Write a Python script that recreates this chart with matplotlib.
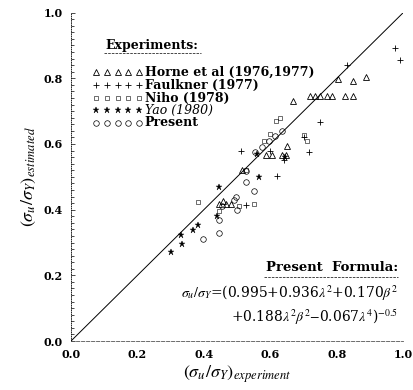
import numpy as np
import matplotlib
matplotlib.use('Agg')
import matplotlib.pyplot as plt

plt.rcParams['font.family'] = ['DejaVu Serif']
plt.rcParams['mathtext.fontset'] = 'stix'

# data
horne_x = [0.805, 0.848, 0.888, 0.669, 0.72, 0.735, 0.75, 0.77, 0.785, 0.825, 0.85,
           0.65, 0.586, 0.606, 0.636, 0.646, 0.446, 0.466, 0.481, 0.456, 0.515]
horne_y = [0.797, 0.793, 0.803, 0.732, 0.747, 0.745, 0.747, 0.745, 0.747, 0.747, 0.747,
           0.593, 0.565, 0.565, 0.565, 0.565, 0.418, 0.418, 0.418, 0.425, 0.52]
faulkner_x = [0.99, 0.975, 0.83, 0.75, 0.716, 0.62, 0.511, 0.526, 0.70, 0.64, 0.60]
faulkner_y = [0.856, 0.892, 0.84, 0.668, 0.575, 0.504, 0.58, 0.413, 0.62, 0.55, 0.58]
niho_x = [0.551, 0.381, 0.70, 0.71, 0.616, 0.63, 0.60, 0.58, 0.526, 0.506, 0.446]
niho_y = [0.418, 0.423, 0.626, 0.61, 0.67, 0.68, 0.63, 0.61, 0.52, 0.41, 0.395]
yao_x = [0.301, 0.331, 0.334, 0.366, 0.381, 0.446, 0.44, 0.566, 0.56, 0.645]
yao_y = [0.271, 0.322, 0.296, 0.337, 0.352, 0.469, 0.382, 0.499, 0.57, 0.56]
present_x = [0.396, 0.496, 0.446, 0.446, 0.551, 0.526, 0.526, 0.555, 0.575, 0.595,
             0.615, 0.635, 0.50, 0.49, 0.455]
present_y = [0.311, 0.44, 0.37, 0.33, 0.458, 0.484, 0.519, 0.575, 0.59, 0.61,
             0.625, 0.64, 0.40, 0.43, 0.41]
ticks = [0.0, 0.2, 0.4, 0.6, 0.8, 1.0]

fig = plt.figure(figsize=(4.14, 3.9), dpi=100)
ax = fig.add_axes([0.1715, 0.1256, 0.8025, 0.842])

ax.plot([0, 1], [0, 1], color='black', lw=0.7)

styles = [
    ('Horne et al (1976,1977)', horne_x, horne_y, dict(marker='^', ms=4.5, mfc='none', mew=0.6)),
    ('Faulkner (1977)', faulkner_x, faulkner_y, dict(marker='+', ms=4, mew=0.6)),
    ('Niho (1978)', niho_x, niho_y, dict(marker='s', ms=3.5, mfc='none', mew=0.4)),
    ('Yao (1980)', yao_x, yao_y, dict(marker='*', ms=4.5, mew=0.3)),
    ('Present', present_x, present_y, dict(marker='o', ms=4, mfc='none', mew=0.5)),
]
for name, xs, ys, st in styles:
    ax.plot(xs, ys, ls='none', color='black', mec='black', **st)

# hand-made legend
ax.text(0.243, 0.901, 'Experiments:', transform=ax.transAxes, ha='center', va='center',
        fontsize=9, fontweight='bold')
ax.plot([0.10, 0.39], [0.878, 0.878], transform=ax.transAxes, color='black', lw=0.5, ls='--')
rows = [0.819, 0.779, 0.740, 0.703, 0.664]
mx = np.linspace(0.075, 0.205, 5)
for (name, xs, ys, st), ry in zip(styles, rows):
    ax.plot(mx, [ry] * 5, transform=ax.transAxes, ls='none', color='black', mec='black', **st)
    is_yao = name.startswith('Yao')
    ax.text(0.222, ry, name, transform=ax.transAxes, va='center', fontsize=9,
            fontweight='normal' if is_yao else 'bold', style='italic' if is_yao else 'normal')

# formula box
ax.text(0.985, 0.225, 'Present  Formula:', transform=ax.transAxes, ha='right', va='center',
        fontsize=9.5, fontweight='bold')
ax.plot([0.58, 0.985], [0.195, 0.195], transform=ax.transAxes, color='black', lw=0.5, ls='--')
ax.text(0.985, 0.149, r'$\sigma_u/\sigma_Y$=(0.995+0.936$\lambda^2$+0.170$\beta^2$',
        transform=ax.transAxes, ha='right', va='center', fontsize=10)
ax.text(0.985, 0.073, r'+0.188$\lambda^2\beta^2$$-$0.067$\lambda^4$)$^{-0.5}$',
        transform=ax.transAxes, ha='right', va='center', fontsize=10)

ax.set_xlim(0, 1.0)
ax.set_ylim(0, 1.0)
ax.set_xticks(ticks)
ax.set_yticks(ticks)
ax.set_xticklabels(['%.1f' % t for t in ticks], fontsize=8, fontweight='bold')
ax.set_yticklabels(['%.1f' % t for t in ticks], fontsize=8, fontweight='bold')
ax.set_yticks(np.arange(0, 1.001, 0.02), minor=True)
ax.tick_params(axis='both', which='major', length=3, width=0.5, direction='in', pad=6)
ax.tick_params(axis='y', which='minor', length=2, width=0.5, direction='in')
ax.tick_params(axis='x', which='both', length=0)
for s in ['top', 'right']:
    ax.spines[s].set_visible(False)
ax.spines['left'].set_linestyle(':')
ax.spines['left'].set_linewidth(0.6)
ax.spines['bottom'].set_linestyle((0, (4, 2)))
ax.spines['bottom'].set_linewidth(0.6)
ax.spines['bottom'].set_color('#555555')

ax.set_xlabel(r'$(\sigma_u/\sigma_Y)_{experiment}$', fontsize=13, labelpad=2)
ax.set_ylabel(r'$(\sigma_u/\sigma_Y)_{estimated}$', fontsize=13, labelpad=4)

fig.savefig('out.png', dpi=100)
